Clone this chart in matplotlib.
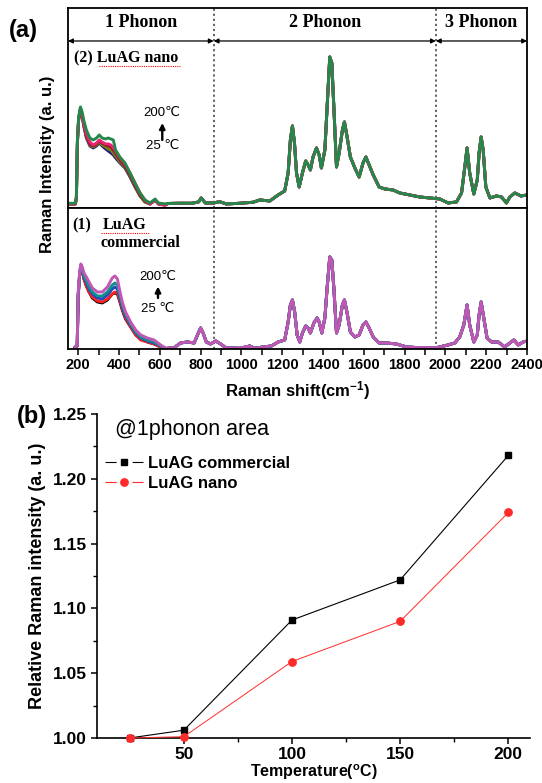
import matplotlib
matplotlib.use('Agg')
import matplotlib.pyplot as plt
from matplotlib.lines import Line2D
from matplotlib.ticker import MultipleLocator, FixedLocator

plt.rcParams['font.family'] = ['Liberation Sans', 'DejaVu Sans']
plt.rcParams['mathtext.default'] = 'regular'

# ---------------- data ----------------
temps = [25, 50, 100, 150, 200]

# (2) LuAG nano, 1-phonon part (one curve per temperature)
nano_shift_lo = [155, 186, 191, 196, 202, 211, 219, 227, 240, 257, 273, 290, 303, 317, 334,
                 347, 360, 372, 383, 404, 429, 454, 478, 503, 527, 552, 577, 593, 626]
nano_lo_25 = [4, 4, 10, 65, 88, 99, 92, 82, 70, 62, 60, 62, 65, 62, 59,
              57, 55, 53, 50, 45, 40, 31, 21, 12, 6, 4, 8, 4, 3.5]
nano_lo_50 = [4, 4, 10, 65, 88, 99, 92, 83, 71, 63, 61, 63, 66, 63, 61,
              59, 58, 55, 52, 46, 41, 32, 22, 12, 6, 4, 8, 4, 3]
nano_lo_100 = [4, 4, 10, 66, 89, 99, 93, 84, 72, 64, 62, 64, 67, 65, 63,
               62, 61, 58, 55, 48, 42, 33, 23, 13, 7, 4, 8, 4, 3]
nano_lo_150 = [4, 4, 10, 66, 90, 100, 94, 85, 74, 66, 63, 65, 68, 66, 64,
               64, 63, 60, 57, 50, 44, 35, 25, 15, 8, 4, 8, 4, 2.5]
nano_lo_200 = [4.7, 4.7, 11, 68, 91, 101, 96, 88, 78, 70, 68, 70, 73, 70, 69,
               70, 69, 68, 58, 51, 45, 35, 25, 15, 8, 5, 9, 5, 4]
# 2- and 3-phonon part (curves overlap)
nano_shift_hi = [640, 692, 757, 790, 803, 823, 864, 893, 926, 992, 1057, 1090, 1139, 1180, 1212,
                 1229, 1240, 1250, 1260, 1270, 1283, 1299, 1315, 1327, 1338, 1351, 1368, 1381, 1392,
                 1409, 1420, 1433, 1443, 1453, 1466, 1479, 1495, 1505, 1518, 1534, 1556, 1577, 1596,
                 1610, 1626, 1646, 1675, 1703, 1743, 1776, 1825, 1874, 1923, 1972, 2013, 2054, 2079,
                 2095, 2106, 2119, 2139, 2156, 2165, 2175, 2185, 2198, 2218, 2250, 2275, 2299, 2316,
                 2340, 2370, 2400]
nano_hi = [4.5, 4.7, 4.7, 6, 10, 5, 5, 6.3, 4, 4.7, 5.7, 8, 7, 13, 17,
           35, 68, 82, 65, 35, 21, 35, 47, 43, 38, 51, 60, 53, 40,
           58, 101, 151, 145, 101, 41, 55, 78, 86, 71, 51, 40, 31, 45,
           51, 43, 33, 21, 19, 18, 15, 13, 11, 10, 9, 5, 6, 15,
           41, 60, 35, 14, 28, 55, 71, 58, 21, 10, 12, 11, 5, 11,
           15, 12, 13]

# (1) LuAG commercial
comm_shift_lo = [185, 195, 200, 207, 213, 220, 228, 240, 253, 269, 294, 318, 343, 367, 380,
                 392, 403, 416, 432, 457, 482, 506, 539, 572, 604, 629]
comm_lo_25 = [1.5, 3, 53, 74, 82, 78, 70, 63, 57, 51, 47, 46, 49, 55, 56,
              55, 48, 39, 30, 22, 14, 10, 7, 5, 2, 0.5]
comm_lo_50 = [1.5, 3, 53, 74, 82, 78, 70, 63, 57, 52, 48, 47, 50, 55, 57,
              56, 49, 40, 31, 22, 14, 9, 7, 5, 2, 0.5]
comm_lo_100 = [2, 4, 54, 75, 83, 79, 72, 66, 60, 55, 51, 50, 54, 60, 62,
               60, 52, 42, 33, 24, 16, 11, 8, 6, 3, 0.5]
comm_lo_150 = [2, 4, 55, 76, 84, 80, 73, 68, 62, 57, 53, 53, 57, 64, 66,
               64, 55, 44, 35, 25, 17, 12, 9, 7, 3, 0.5]
comm_lo_200 = [2, 4, 57, 77, 85, 82, 76, 72, 67, 61, 57, 57, 62, 71, 73,
               70, 59, 47, 37, 27, 19, 14, 11, 9, 4, 0.7]
comm_shift_hi = [670, 702, 735, 768, 789, 800, 812, 828, 849, 874, 898, 923, 992, 1041, 1065,
                 1106, 1147, 1180, 1212, 1229, 1240, 1250, 1261, 1273, 1286, 1299, 1315, 1327, 1338,
                 1355, 1371, 1381, 1394, 1409, 1420, 1433, 1443, 1453, 1466, 1479, 1495, 1505, 1518,
                 1534, 1556, 1577, 1596, 1610, 1626, 1646, 1675, 1711, 1760, 1809, 1874, 1956, 2013,
                 2046, 2070, 2090, 2106, 2119, 2139, 2156, 2165, 2175, 2188, 2204, 2226, 2258, 2291,
                 2316, 2335, 2357, 2381, 2400]
comm_hi = [1.3, 6, 7, 6, 16, 21, 16, 7, 5, 8, 5, 1.3, 0.7, 3, 0.7,
           2, 3, 7, 9, 27, 44, 49, 37, 14, 7, 16, 23, 21, 16,
           26, 31, 27, 16, 31, 61, 92, 89, 61, 16, 24, 44, 49, 36,
           17, 12, 14, 24, 27, 21, 12, 6, 6, 5, 2, 1.3, 1.3, 4,
           6, 12, 24, 44, 24, 7, 14, 34, 47, 31, 11, 7, 7, 2,
           6, 9, 4, 7, 8]

phonon_bounds = [150, 864, 1953, 2400]
phonon_names = ['1 Phonon', '2 Phonon', '3 Phonon']

# (b) relative 1-phonon intensity
temp_b = [25, 50, 100, 150, 200]
rel_commercial = [1.000, 1.006, 1.091, 1.122, 1.218]
rel_nano = [1.000, 1.001, 1.059, 1.090, 1.174]

nano_colors = ['#1f1f80', '#7a7a1a', '#8b1a1a', '#f0207a', '#23884a']
comm_colors = ['#000000', '#ff2020', '#2446c0', '#12908c', '#c256b6']

# ---------------- figure ----------------
fig = plt.figure(figsize=(5.42, 7.83), dpi=100)
ax_top = fig.add_axes([0.1255, 0.7344, 0.8469, 0.2559])
ax_bot = fig.add_axes([0.1255, 0.5543, 0.8469, 0.1801])
ax_b = fig.add_axes([0.1795, 0.0575, 0.7983, 0.4138])

nano_lo = [nano_lo_25, nano_lo_50, nano_lo_100, nano_lo_150, nano_lo_200]
comm_lo = [comm_lo_25, comm_lo_50, comm_lo_100, comm_lo_150, comm_lo_200]

for i, t in enumerate(temps):
    ax_top.plot(nano_shift_lo + nano_shift_hi, nano_lo[i] + nano_hi,
                color=nano_colors[i], lw=2.1, solid_joinstyle='round')
    ax_bot.plot(comm_shift_lo + comm_shift_hi, comm_lo[i] + comm_hi,
                color=comm_colors[i], lw=2.1, solid_joinstyle='round')

for ax, top in [(ax_top, 200.4), (ax_bot, 141)]:
    ax.set_xlim(150, 2400)
    ax.set_ylim(0, top)
    ax.set_yticks([])
    for s in ax.spines.values():
        s.set_linewidth(1.3)
    for xb in phonon_bounds[1:3]:
        ax.axvline(xb, color='#555555', ls=(0, (1.2, 1.6)), lw=1.3, zorder=0)

ax_top.set_xticks([])

# header: phonon regions with double arrows
for j, name in enumerate(phonon_names):
    x0, x1 = phonon_bounds[j], phonon_bounds[j + 1]
    ax_top.annotate('', xy=(x1, 167), xytext=(x0, 167),
                    arrowprops=dict(arrowstyle='<|-|>', color='black', lw=0.9,
                                    shrinkA=0, shrinkB=0, mutation_scale=7))
    ax_top.text((x0 + x1) / 2, 185, name, ha='center', va='center',
                fontsize=13, fontweight='bold', family='Liberation Serif')

# sample labels
serif = dict(fontsize=11.5, fontweight='bold', family='Liberation Serif', va='center', ha='left')
ax_top.text(179, 150, '(2) LuAG nano', **serif)
ax_top.plot([300, 700], [141.5, 141.5], color='red', ls=(0, (1, 1)), lw=0.8)
ax_bot.text(171, 124, '(1)', **serif)
ax_bot.text(318, 124, 'LuAG', **serif)
ax_bot.plot([312, 545], [116, 116], color='red', ls=(0, (1, 1)), lw=0.8)
ax_bot.text(310, 106, 'commercial', **serif)

# temperature arrows
for ax, xa, ys in [(ax_top, 612, (95, 68, 85, 62)), (ax_bot, 591, (72, 51, 62.5, 40))]:
    ax.text(xa, ys[0], '200\u2103', ha='center', va='center', fontsize=9.5)
    ax.annotate('', xy=(xa, ys[2]), xytext=(xa, ys[1]),
                arrowprops=dict(arrowstyle='-|>', color='black', lw=1.7,
                                shrinkA=0, shrinkB=0, mutation_scale=8))
    ax.text(xa, ys[3], '25 \u2103', ha='center', va='center', fontsize=9.5)

ax_bot.xaxis.set_major_locator(MultipleLocator(200))
ax_bot.xaxis.set_minor_locator(MultipleLocator(100))
ax_bot.tick_params(axis='x', which='both', direction='out', length=4.3, width=1.1,
                   labelsize=10.5, pad=2)
for lab in ax_bot.get_xticklabels():
    lab.set_fontweight('bold')
ax_bot.set_xlabel('Raman shift(cm$^{\\mathregular{-1}}$)', fontsize=12, fontweight='bold',
                  labelpad=5)

fig.text(48 / 542, 1 - 164 / 783, 'Raman Intensity (a. u.)', rotation=90,
         ha='center', va='center', fontsize=12, fontweight='bold')
fig.text(9 / 542, 1 - 30 / 783, '(a)', ha='left', va='center', fontsize=17,
         fontweight='bold')
fig.text(17 / 542, 1 - 416 / 783, '(b)', ha='left', va='center', fontsize=17,
         fontweight='bold')

# ---------------- panel (b) ----------------
ax_b.plot(temp_b, rel_commercial, color='black', lw=0.8, marker='s', ms=4.8,
          clip_on=False, zorder=3)
ax_b.plot(temp_b, rel_nano, color='#ff2a2a', lw=0.7, marker='o', ms=5.3,
          clip_on=False, zorder=3)
ax_b.set_xlim(10, 210)
ax_b.set_ylim(1.0, 1.25)
ax_b.spines['top'].set_visible(False)
ax_b.spines['right'].set_visible(False)
for s in ['left', 'bottom']:
    ax_b.spines[s].set_linewidth(1.2)
ax_b.set_xticks([50, 100, 150, 200])
ax_b.xaxis.set_minor_locator(FixedLocator([75, 125, 175]))
ax_b.yaxis.set_major_locator(MultipleLocator(0.05))
ax_b.yaxis.set_minor_locator(MultipleLocator(0.025))
ax_b.yaxis.set_major_formatter(plt.FormatStrFormatter('%.2f'))
ax_b.tick_params(which='major', direction='out', length=4.5, width=1.1, labelsize=12.5, pad=3)
ax_b.tick_params(axis='x', which='major', pad=2)
ax_b.tick_params(which='minor', direction='out', length=2.8, width=1.0)
for lab in ax_b.get_xticklabels() + ax_b.get_yticklabels():
    lab.set_fontweight('bold')
ax_b.set_xlabel('Temperature($^{\\mathregular{o}}$C)', fontsize=11.5, fontweight='bold', labelpad=0)
ax_b.set_ylabel('Relative Raman intensity (a. u.)', fontsize=13, fontweight='bold', labelpad=5)

ax_b.text(0.041, 0.951, '@1phonon area', transform=ax_b.transAxes, ha='left', va='center',
          fontsize=15.5)

handles = [Line2D([], [], color='black', lw=0.8, marker='s', ms=4.8, dashes=(10, 14.4)),
           Line2D([], [], color='#ff2a2a', lw=0.8, marker='o', ms=5.3, dashes=(10, 14.4))]
leg = ax_b.legend(handles, ['LuAG commercial', 'LuAG nano'], loc='upper left',
                  bbox_to_anchor=(0.018, 0.871), frameon=False, borderaxespad=0, borderpad=0,
                  handlelength=2.3, handletextpad=0.25, labelspacing=0.3, numpoints=1,
                  prop={'weight': 'bold', 'size': 12})

fig.savefig('out.png', dpi=100)
